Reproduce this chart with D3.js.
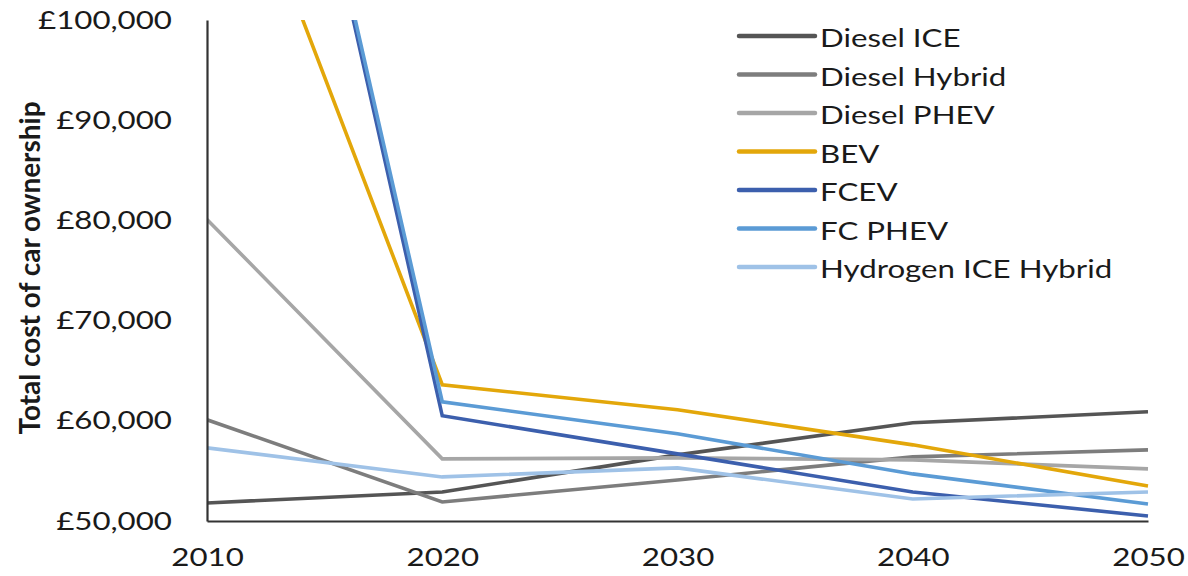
<!DOCTYPE html>
<html>
<head>
<meta charset="utf-8">
<script src="https://cdn.jsdelivr.net/npm/d3@7"></script>
<style>
  html, body { margin: 0; padding: 0; background: #fff; }
  svg { display: block; }
  text { font-family: Lato, "Open Sans", sans-serif; fill: #1a1a1a; }
</style>
</head>
<body>
<svg id="chart" width="1188" height="576"></svg>
<script>
// Total cost of car ownership by powertrain, 2010–2050 (GBP)
const years = [2010, 2020, 2030, 2040, 2050];
const seriesNames = ["Diesel ICE", "Diesel Hybrid", "Diesel PHEV", "BEV", "FCEV", "FC PHEV", "Hydrogen ICE Hybrid"];
const dieselIce      = [51800, 52900, 56600, 59800, 60900];
const dieselHybrid   = [60100, 51900, 54100, 56400, 57100];
const dieselPhev     = [80100, 56200, 56300, 56100, 55200];
const bev            = [125000, 63600, 61100, 57600, 53500];
const fcev           = [165000, 60500, 56700, 52900, 50500];
const fcPhev         = [165000, 61900, 58700, 54700, 51700];
const hydrogenIceHyb = [57300, 54400, 55300, 52200, 52900];
const seriesColors = ["#555555", "#7d7d7d", "#a6a6a6", "#e3a70a", "#3c5fad", "#5b9bd5", "#9fc2e7"];
const yTicks = [50000, 60000, 70000, 80000, 90000, 100000];

const seriesValues = [dieselIce, dieselHybrid, dieselPhev, bev, fcev, fcPhev, hydrogenIceHyb];
const series = seriesNames.map((name, i) => ({ name, color: seriesColors[i], values: seriesValues[i] }));

const svg = d3.select("#chart");
const plot = { left: 207, right: 1148, top: 20, bottom: 521 };
const widen = 1.25; // labels use a wide face; stretch Lato to that width

const x = d3.scaleLinear().domain([2010, 2050]).range([plot.left, plot.right]);
const y = d3.scaleLinear().domain([50000, 100000]).range([plot.bottom, plot.top]);

function stretch(sel, factor) {
  sel.each(function () {
    const len = this.getComputedTextLength();
    d3.select(this).attr("textLength", len * factor).attr("lengthAdjust", "spacingAndGlyphs");
  });
}

svg.append("defs").append("clipPath").attr("id", "plot-clip")
  .append("rect")
  .attr("x", plot.left).attr("y", plot.top)
  .attr("width", plot.right - plot.left + 10)
  .attr("height", plot.bottom - plot.top);

// Series lines
const line = d3.line().x((d, i) => x(years[i])).y(d => y(d));
svg.append("g").attr("clip-path", "url(#plot-clip)")
  .selectAll("path").data(series).join("path")
  .attr("d", d => line(d.values))
  .attr("fill", "none")
  .attr("stroke", d => d.color)
  .attr("stroke-width", 3.6)
  .attr("stroke-linejoin", "miter");

// Axes
const fmt = v => "£" + d3.format(",")(v);
const yAxis = svg.append("g").attr("transform", `translate(${plot.left},0)`)
  .call(d3.axisLeft(y).tickValues(yTicks).tickFormat(fmt).tickSize(0).tickPadding(35));
const xAxis = svg.append("g").attr("transform", `translate(0,${plot.bottom})`)
  .call(d3.axisBottom(x).tickValues(years).tickFormat(d3.format("d")).tickSize(0).tickPadding(27));

[yAxis, xAxis].forEach(g => {
  g.select(".domain").attr("stroke", "#333").attr("stroke-width", 2.2);
  g.selectAll("text").attr("font-size", 25).attr("fill", "#1a1a1a")
    .style("font-family", "Lato, sans-serif");
  stretch(g.selectAll("text"), widen);
});

// Y axis title
const title = svg.append("text")
  .attr("transform", "translate(29,268) rotate(-90) scale(1,1.2)")
  .attr("text-anchor", "middle")
  .attr("dominant-baseline", "central")
  .attr("font-size", 24)
  .attr("font-weight", "bold")
  .text("Total cost of car ownership");
title.attr("textLength", 333).attr("lengthAdjust", "spacingAndGlyphs");

// Legend
const legend = svg.append("g").attr("transform", "translate(739,36)");
const item = legend.selectAll("g").data(series).join("g")
  .attr("transform", (d, i) => `translate(0,${i * 38.5})`);
item.append("line")
  .attr("x1", 0).attr("x2", 76).attr("y1", 0).attr("y2", 0)
  .attr("stroke", d => d.color).attr("stroke-width", 4.5).attr("stroke-linecap", "round");
const legendText = item.append("text")
  .attr("x", 81).attr("y", 1)
  .attr("dominant-baseline", "central")
  .attr("font-size", 25)
  .text(d => d.name);
stretch(legendText, widen);
</script>
</body>
</html>
